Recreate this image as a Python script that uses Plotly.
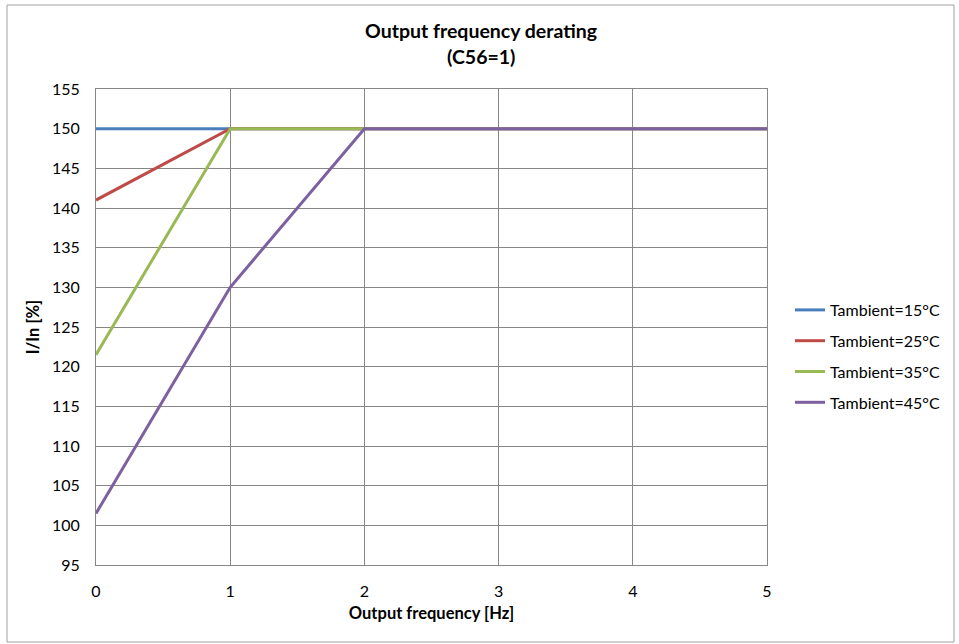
import plotly.graph_objects as go

freq = [0, 1, 2, 3, 4, 5]
t15 = [150, 150, 150, 150, 150, 150]
t25 = [141, 150, 150, 150, 150, 150]
t35 = [121.5, 150, 150, 150, 150, 150]
t45 = [101.5, 130, 150, 150, 150, 150]
names = ["Tambient=15°C", "Tambient=25°C", "Tambient=35°C", "Tambient=45°C"]
colors = ["#4A7EBB", "#BE4B48", "#98B954", "#7D60A0"]
series = [t15, t25, t35, t45]
title_lines = ["Output frequency derating", "(C56=1)"]

W, H = 959, 644
L, R, T, B = 96, 767, 89, 565

fig = go.Figure()
for i, (n, c, s) in enumerate(zip(names, colors, series)):
    fig.add_trace(go.Scatter(x=freq, y=s, mode="lines", name=n, legendgroup=n,
                             line=dict(color=c, width=3)))

pw, ph = R - L, B - T
def px(x): return (x - L) / pw
def py(y): return (B - y) / ph

annotations = []
for txt, yc in zip(title_lines, [30, 56]):
    annotations.append(dict(text="<b>%s</b>" % txt, xref="paper", yref="paper",
                            x=px(481), y=py(yc), xanchor="center", yanchor="middle",
                            showarrow=False, font=dict(size=19.5)))

fig.update_layout(
    width=W, height=H,
    margin=dict(l=L, r=W - R, t=T, b=H - B, pad=0),
    paper_bgcolor="white", plot_bgcolor="white",
    font=dict(family="Lato, Open Sans, sans-serif", size=16, color="#000000"),
    showlegend=True,
    legend=dict(x=px(790), y=py(293), xanchor="left", yanchor="top",
                font=dict(size=16), tracegroupgap=7, itemwidth=30,
                bgcolor="rgba(0,0,0,0)"),
    xaxis=dict(range=[0, 5], dtick=1, showgrid=True, gridcolor="#868686", gridwidth=1,
               showline=True, linecolor="#868686", linewidth=1, mirror=True,
               zeroline=False, ticks="", ticklabelstandoff=12,
               title=dict(text="<b>Output frequency [Hz]</b>", standoff=8, font=dict(size=16.5))),
    yaxis=dict(range=[95, 155], dtick=5, showgrid=True, gridcolor="#868686", gridwidth=1,
               showline=True, linecolor="#868686", linewidth=1, mirror=True,
               zeroline=False, ticks="", ticklabelstandoff=12,
               title=dict(text="<b>I/In [%]</b>", standoff=8, font=dict(size=16.5))),
    annotations=annotations,
    shapes=[dict(type="rect", xref="paper", yref="paper",
                 x0=px(7), x1=px(954), y0=py(642), y1=py(5),
                 line=dict(color="#A0A0A0", width=1), fillcolor="rgba(0,0,0,0)", layer="below")],
)

fig.write_html("out.html")
